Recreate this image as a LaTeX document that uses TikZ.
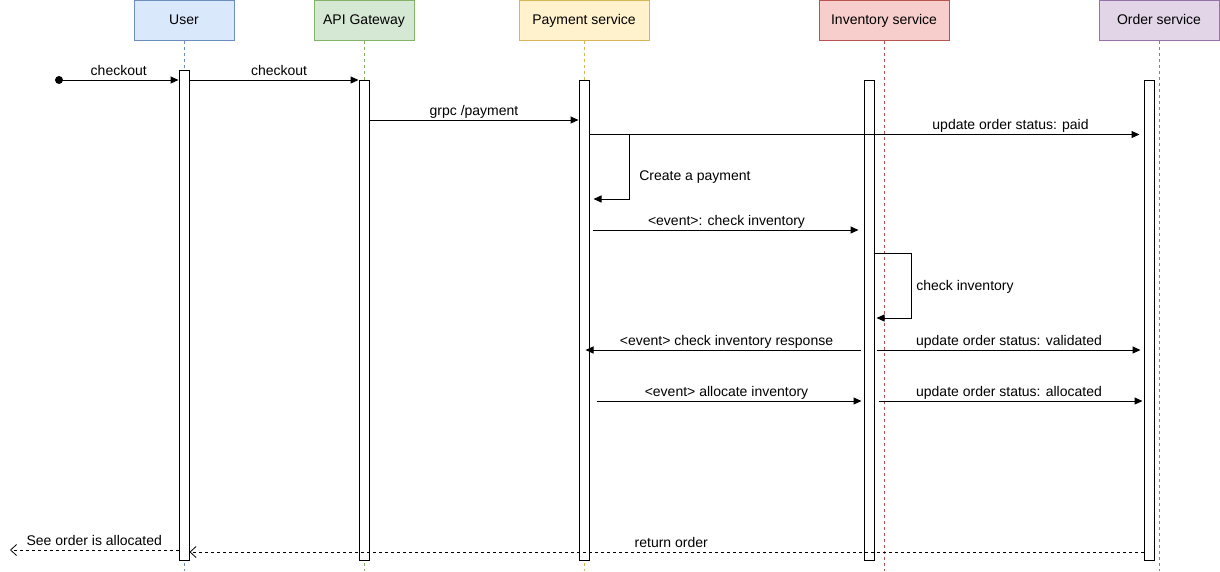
\documentclass[tikz,border=0pt]{standalone}
\usepackage{fontspec}
\setmainfont{Liberation Sans}
\usetikzlibrary{arrows.meta}
\definecolor{userfill}{HTML}{DAE8FC}\definecolor{userline}{HTML}{6C8EBF}
\definecolor{apifill}{HTML}{D5E8D4}\definecolor{apiline}{HTML}{82B366}
\definecolor{payfill}{HTML}{FFF2CC}\definecolor{payline}{HTML}{D6B656}
\definecolor{invfill}{HTML}{F8CECC}\definecolor{invline}{HTML}{B85450}
\definecolor{ordfill}{HTML}{E1D5E7}\definecolor{ordline}{HTML}{9673A6}
\begin{document}
\begin{tikzpicture}[
    x=1pt, y=-1pt,
    font=\fontsize{14}{16}\selectfont,
    actor/.style={rectangle, minimum height=40pt, text height=10pt, text depth=3pt, draw=#1line, fill=#1fill},
    life/.style={draw=#1line, dash pattern=on 3pt off 3pt, line width=0.8pt},
    bar/.style={rectangle, draw=black, fill=white, minimum width=10pt, inner sep=0pt, line width=1pt},
    msg/.style={-{Triangle[length=8pt,width=7pt]}, line width=1pt},
    ret/.style={-{Straight Barb[length=6pt,width=11pt]}, dash pattern=on 3pt off 3pt, line width=0.8pt},
    lbl/.style={text height=10pt, text depth=3pt, inner sep=1.5pt}
]
    \useasboundingbox (0,0) rectangle (1220,571);
    \coordinate (bottom) at (0,571);

    \node[actor=user, minimum width=100pt] at (184,20.5) (user) {User};
    \node[actor=api, minimum width=100pt] at (364,20.5) (api) {API Gateway};
    \node[actor=pay, minimum width=130pt] at (584,20.5) (pay) {Payment service};
    \node[actor=inv, minimum width=130pt] at (884,20.5) (inv) {Inventory service};
    \node[actor=ord, minimum width=120pt] at (1159,20.5) (ord) {Order service};

    \draw[life=user] (user) -- (user |- bottom);
    \draw[life=api] (api) -- (api |- bottom);
    \draw[life=pay] (pay) -- (pay |- bottom);
    \draw[life=inv] (inv) -- (inv |- bottom);
    \draw[life=ord] (ord) -- (ord |- bottom);

    \node[bar, minimum height=490pt] at (184,315) (ubar) {};
    \node[bar, minimum height=480pt] at (364,320) (abar) {};
    \node[bar, minimum height=480pt] at (584,320) (pbar) {};
    \node[bar, minimum height=480pt] at (869,320) (ibar) {};
    \node[bar, minimum height=480pt] at (1149,320) (obar) {};

    \coordinate (r1) at (0,120);
    \coordinate (r2) at (0,134.5);
    \coordinate (r3) at (0,199);
    \coordinate (r4) at (0,230);
    \coordinate (r5) at (0,253);
    \coordinate (r6) at (0,318);
    \coordinate (r7) at (0,350);
    \coordinate (r8) at (0,401);
    \coordinate (r9) at (0,552);
    \coordinate (r10) at (0,550);
    \coordinate (away) at (10,550);

    \node[circle, fill=black, inner sep=0pt, minimum size=8pt] at (59,80) (start) {};
    \draw[msg] (start.center) -- node[lbl, above] {checkout} (ubar.west |- start);
    \draw[msg] (ubar.east |- start) -- node[lbl, above, pos=0.53] {checkout} (abar.west |- start);
    \draw[msg] (abar.east |- r1) -- node[lbl, above] {grpc /payment} (pbar.west |- r1);
    \draw[msg, shorten >=4pt] (pbar.east |- r2) -- node[lbl, above, pos=0.76] {update order status: paid} (obar.west |- r2);
    \draw[msg, shorten >=4pt] (pbar.east |- r2) -- ++(40,0) |- node[pos=0.33, right, xshift=6pt] {Create a payment} (pbar.east |- r3);
    \draw[msg, shorten <=3pt, shorten >=5pt] (pbar.east |- r4) -- node[lbl, above] {<event>: check inventory} (ibar.west |- r4);
    \draw[msg, shorten >=2pt] (ibar.east |- r5) -- ++(37,0) |- node[pos=0.26, right, xshift=1pt] {check inventory} (ibar.east |- r6);
    \draw[msg, shorten <=3pt, shorten >=-4pt] (ibar.west |- r7) -- node[lbl, above] {<event> check inventory response} (pbar.east |- r7);
    \draw[msg, shorten <=2pt, shorten >=3pt] (ibar.east |- r7) -- node[lbl, above] {update order status: validated} (obar.west |- r7);
    \draw[msg, shorten <=7pt, shorten >=2pt] (pbar.east |- r8) -- node[lbl, above] {<event> allocate inventory} (ibar.west |- r8);
    \draw[msg, shorten <=4pt, shorten >=1pt] (ibar.east |- r8) -- node[lbl, above] {update order status: allocated} (obar.west |- r8);
    \draw[ret] (obar.west |- r9) -- node[lbl, above, pos=0.495] {return order} (ubar.east |- r9);
    \draw[ret] (ubar.west |- r10) -- node[lbl, above] {See order is allocated} (away);
\end{tikzpicture}
\end{document}
